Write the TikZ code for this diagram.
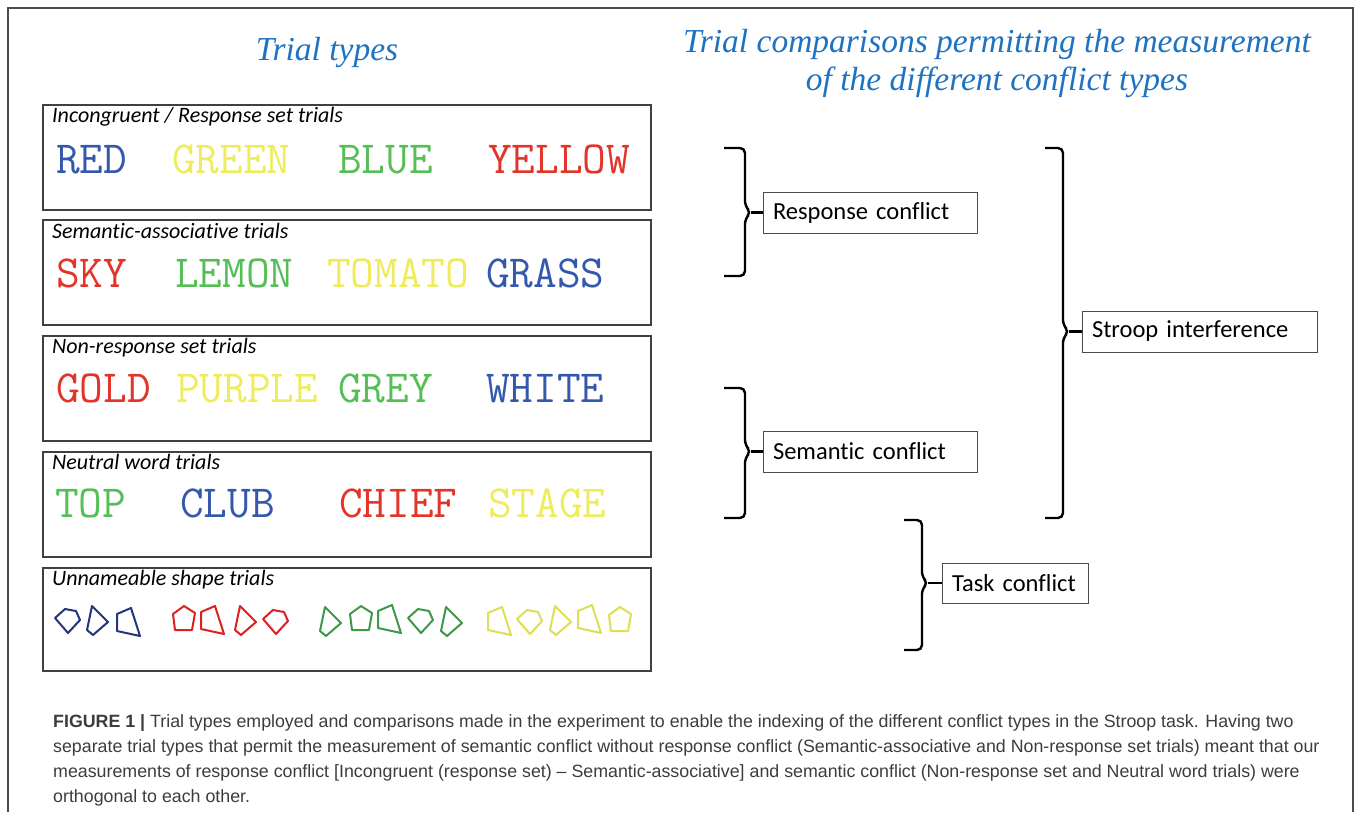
\documentclass[tikz,border=0pt]{standalone}
\usepackage{fontspec}
\usepackage{tikz}
\newfontfamily\labelfont[Ligatures=NoCommon]{Carlito}
\newfontfamily\headfont{Liberation Serif}
\newfontfamily\capfont{Liberation Sans}
\definecolor{headblue}{RGB}{30,114,196}
\definecolor{wblue}{RGB}{52,88,172}
\definecolor{wyellow}{RGB}{238,236,92}
\definecolor{wgreen}{RGB}{86,190,86}
\definecolor{wred}{RGB}{226,52,40}
\definecolor{sblue}{RGB}{34,54,124}
\definecolor{sred}{RGB}{222,32,32}
\definecolor{sgreen}{RGB}{62,152,72}
\definecolor{syellow}{RGB}{222,222,84}
\definecolor{captext}{RGB}{60,60,60}
% shape outlines (local coords, y downwards)
\newcommand{\pentA}{(0,12) -- (10,3) -- (21,5) -- (25,14) -- (13,27) -- cycle}
\newcommand{\pentB}{(3,8) -- (14,0) -- (25,7) -- (22,24) -- (5,24) -- cycle}
\newcommand{\kiteR}{(7,0) -- (23,16) -- (8,29) -- (2,24) -- cycle}
\newcommand{\quadR}{(0,6) -- (14,0) -- (23,28) -- (0,23) -- cycle}
\tikzset{
  trialbox/.style={rectangle,draw=black!75,line width=1.2pt,minimum width=608pt,minimum height=105pt,inner sep=0pt},
  conflictbox/.style={rectangle,draw=black!70,line width=0.9pt,minimum height=41pt,inner xsep=10pt,inner ysep=0pt,align=left,font=\labelfont\fontsize{24.5}{28}\selectfont},
  trialname/.style={anchor=base west,inner sep=0pt,font=\labelfont\itshape\fontsize{22}{24}\selectfont},
  word/.style={anchor=base west,inner sep=0pt,font=\ttfamily\fontsize{46}{50}\selectfont},
  heading/.style={anchor=base,inner sep=0pt,text=headblue,font=\headfont\itshape\fontsize{33.5}{38}\selectfont},
  capline/.style={anchor=base west,inner sep=0pt,text=captext,font=\capfont\fontsize{17.8}{25}\selectfont},
  bracket/.style={line width=2.4pt,rounded corners=5pt},
  shapeline/.style={line width=2pt,line join=round}
}
\begin{document}
\begin{tikzpicture}[x=1pt,y=-1pt]
\useasboundingbox (0,0) rectangle (1358,812);
%Frame
\draw [black!70,line width=1.5pt] (8,812) -- (8,8) -- (1353,8) -- (1353,812);
%Headings
\node at (327,60) [heading] (HeadL) {Trial types};
\node at (997,52) [heading] (HeadR1) {Trial comparisons permitting the measurement};
\node at (997,90) [heading] (HeadR2) {of the different conflict types};
%Trial boxes
\node at (347,157.5) [trialbox] (Trial1) {};
\node at (347,272.5) [trialbox] (Trial2) {};
\node at (347,388.5) [trialbox] (Trial3) {};
\node at (347,504.5) [trialbox] (Trial4) {};
\node at (347,619.5) [trialbox,minimum height=103pt] (Trial5) {};
%Trial labels
\node at (52,122) [trialname] (Name1) {Incongruent / Response set trials};
\node at (52,238) [trialname] (Name2) {Semantic-associative trials};
\node at (52,353) [trialname] (Name3) {Non-response set trials};
\node at (52,469) [trialname] (Name4) {Neutral word trials};
\node at (52,585) [trialname] (Name5) {Unnameable shape trials};
%Words
\node at (56,173) [word,wblue] (RED) {RED};
\node at (172,173) [word,wyellow] (GREEN) {GREEN};
\node at (338,173) [word,wgreen] (BLUE) {BLUE};
\node at (488,173) [word,wred] (YELLOW) {YELLOW};
\node at (56,287) [word,wred] (SKY) {SKY};
\node at (175,287) [word,wgreen] (LEMON) {LEMON};
\node at (327,287) [word,wyellow] (TOMATO) {TOMATO};
\node at (486,287) [word,wblue] (GRASS) {GRASS};
\node at (56,402) [word,wred] (GOLD) {GOLD};
\node at (176,402) [word,wyellow] (PURPLE) {PURPLE};
\node at (338,402) [word,wgreen] (GREY) {GREY};
\node at (486,402) [word,wblue] (WHITE) {WHITE};
\node at (55,517) [word,wgreen] (TOP) {TOP};
\node at (180,517) [word,wblue] (CLUB) {CLUB};
\node at (339,517) [word,wred] (CHIEF) {CHIEF};
\node at (488,517) [word,wyellow] (STAGE) {STAGE};
%Shapes
\draw [shapeline,sblue,shift={(55,606)}] \pentA;
\draw [shapeline,sblue,shift={(85,606)}] \kiteR;
\draw [shapeline,sblue,shift={(117,608)}] \quadR;
\draw [shapeline,sred,shift={(170,606)}] \pentB;
\draw [shapeline,sred,shift={(201,606)}] \quadR;
\draw [shapeline,sred,shift={(233,606)}] \kiteR;
\draw [shapeline,sred,shift={(263,607)}] \pentA;
\draw [shapeline,sgreen,shift={(318,607)}] \kiteR;
\draw [shapeline,sgreen,shift={(347,606)}] \pentB;
\draw [shapeline,sgreen,shift={(378,605)}] \quadR;
\draw [shapeline,sgreen,shift={(408,606)}] \pentA;
\draw [shapeline,sgreen,shift={(439,607)}] \kiteR;
\draw [shapeline,syellow,shift={(488,607)}] \quadR;
\draw [shapeline,syellow,shift={(517,607)}] \pentA;
\draw [shapeline,syellow,shift={(548,606)}] \kiteR;
\draw [shapeline,syellow,shift={(578,605)}] \quadR;
\draw [shapeline,syellow,shift={(606,607)}] \pentB;
%Conflict boxes
\node at (870,212.5) [conflictbox,text width=194pt] (Resp) {Response conflict};
\node at (870,451.5) [conflictbox,text width=194pt] (Sem) {Semantic conflict};
\node at (1199.5,331.5) [conflictbox,text width=215pt] (Stroop) {Stroop interference};
\node at (1015,583) [conflictbox,text width=126pt,minimum height=40pt] (Task) {Task conflict};
%Brackets
\draw [bracket] (724,148) -- (745,148) -- (745,206) -- (751,212.5) coordinate (Cusp1) -- (745,219) -- (745,276) -- (724,276);
\draw [bracket] (724,388) -- (745,388) -- (745,445) -- (751,451.5) coordinate (Cusp2) -- (745,458) -- (745,518) -- (724,518);
\draw [bracket] (1045,148) -- (1063,148) -- (1063,325) -- (1069,331.5) coordinate (Cusp3) -- (1063,338) -- (1063,518) -- (1045,518);
\draw [bracket] (904,520) -- (922,520) -- (922,577) -- (928,583) coordinate (Cusp4) -- (922,589) -- (922,650) -- (904,650);
%Connections
\draw [line width=2.4pt] (Cusp1) -- (Resp.west);
\draw [line width=2.4pt] (Cusp2) -- (Sem.west);
\draw [line width=2.4pt] (Cusp3) -- (Stroop.west);
\draw [line width=2.4pt] (Cusp4) -- (Task.west);
%Caption
\node at (53,727) [capline] (Cap1) {\textbf{FIGURE 1 |} Trial types employed and comparisons made in the experiment to enable the indexing of the different conflict types in the Stroop task. Having two};
\node at (53,752) [capline] (Cap2) {separate trial types that permit the measurement of semantic conflict without response conflict (Semantic-associative and Non-response set trials) meant that our};
\node at (53,777) [capline] (Cap3) {measurements of response conflict [Incongruent (response set) – Semantic-associative] and semantic conflict (Non-response set and Neutral word trials) were};
\node at (53,802) [capline] (Cap4) {orthogonal to each other.};
\end{tikzpicture}
\end{document}
